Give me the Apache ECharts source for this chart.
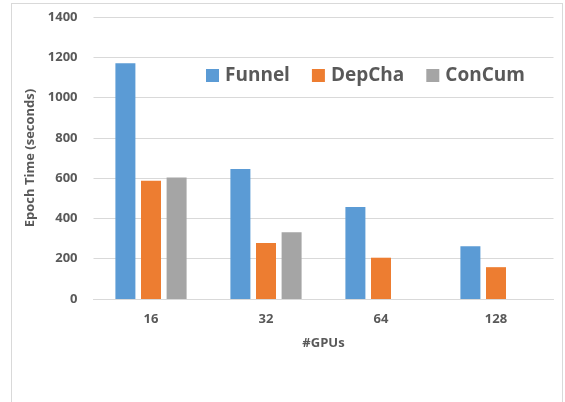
<!DOCTYPE html>
<html>
<head>
<meta charset="utf-8">
<script src="https://cdn.jsdelivr.net/npm/echarts@6/dist/echarts.min.js"></script>
<style>
html,body{margin:0;padding:0;background:#fff;}
#frame{position:absolute;left:11px;top:3px;width:552px;height:420px;border:1px solid #d9d9d9;box-sizing:border-box;}
#chart{position:absolute;left:0;top:0;width:565px;height:402px;}
</style>
</head>
<body>
<div id="frame"></div>
<div id="chart"></div>
<script>
var categories = ['16', '32', '64', '128'];
var funnel = [1170, 645, 457, 262];
var depcha = [587, 278, 205, 158];
var concum = [603, 331, null, null];
var yTicks = [0, 200, 400, 600, 800, 1000, 1200, 1400];

var font = '"Open Sans", sans-serif';
var chart = echarts.init(document.getElementById('chart'), null, {renderer: 'canvas'});
chart.setOption({
  animation: false,
  backgroundColor: 'transparent',
  grid: {left: 93.5, right: 11.5, top: 17, bottom: 103},
  legend: {
    top: 61, left: 201,
    itemWidth: 13, itemHeight: 13, itemGap: 22,
    icon: 'rect',
    textStyle: {fontFamily: font, fontWeight: 'bold', fontSize: 19, color: '#595959', padding: [0,0,0,1]},
    data: ['Funnel', 'DepCha', 'ConCum']
  },
  xAxis: {
    type: 'category', data: categories,
    name: '#GPUs', nameLocation: 'middle', nameGap: 38,
    nameTextStyle: {fontFamily: font, fontWeight: 'bold', fontSize: 13, color: '#595959'},
    axisLine: {show: true, lineStyle: {color: '#d9d9d9', width: 1}},
    axisTick: {show: false},
    axisLabel: {fontFamily: font, fontWeight: 'bold', fontSize: 13, color: '#595959', margin: 14}
  },
  yAxis: {
    type: 'value', min: yTicks[0], max: yTicks[yTicks.length-1], interval: 200,
    name: 'Epoch Time (seconds)', nameLocation: 'middle', nameGap: 53,
    nameTextStyle: {fontFamily: font, fontWeight: 'bold', fontSize: 13, color: '#595959'},
    axisLine: {show: false}, axisTick: {show: false},
    axisLabel: {fontFamily: font, fontWeight: 'bold', fontSize: 13, color: '#595959', margin: 16,
      formatter: function (v) { return String(v); }},
    splitLine: {lineStyle: {color: '#d9d9d9', width: 1}}
  },
  series: [
    {name: 'Funnel', type: 'bar', data: funnel, barWidth: 20, barGap: '28%', itemStyle: {color: '#5b9bd5'}},
    {name: 'DepCha', type: 'bar', data: depcha, barWidth: 20, barGap: '28%', itemStyle: {color: '#ed7d31'}},
    {name: 'ConCum', type: 'bar', data: concum, barWidth: 20, barGap: '28%', itemStyle: {color: '#a5a5a5'}}
  ]
});
</script>
</body>
</html>
